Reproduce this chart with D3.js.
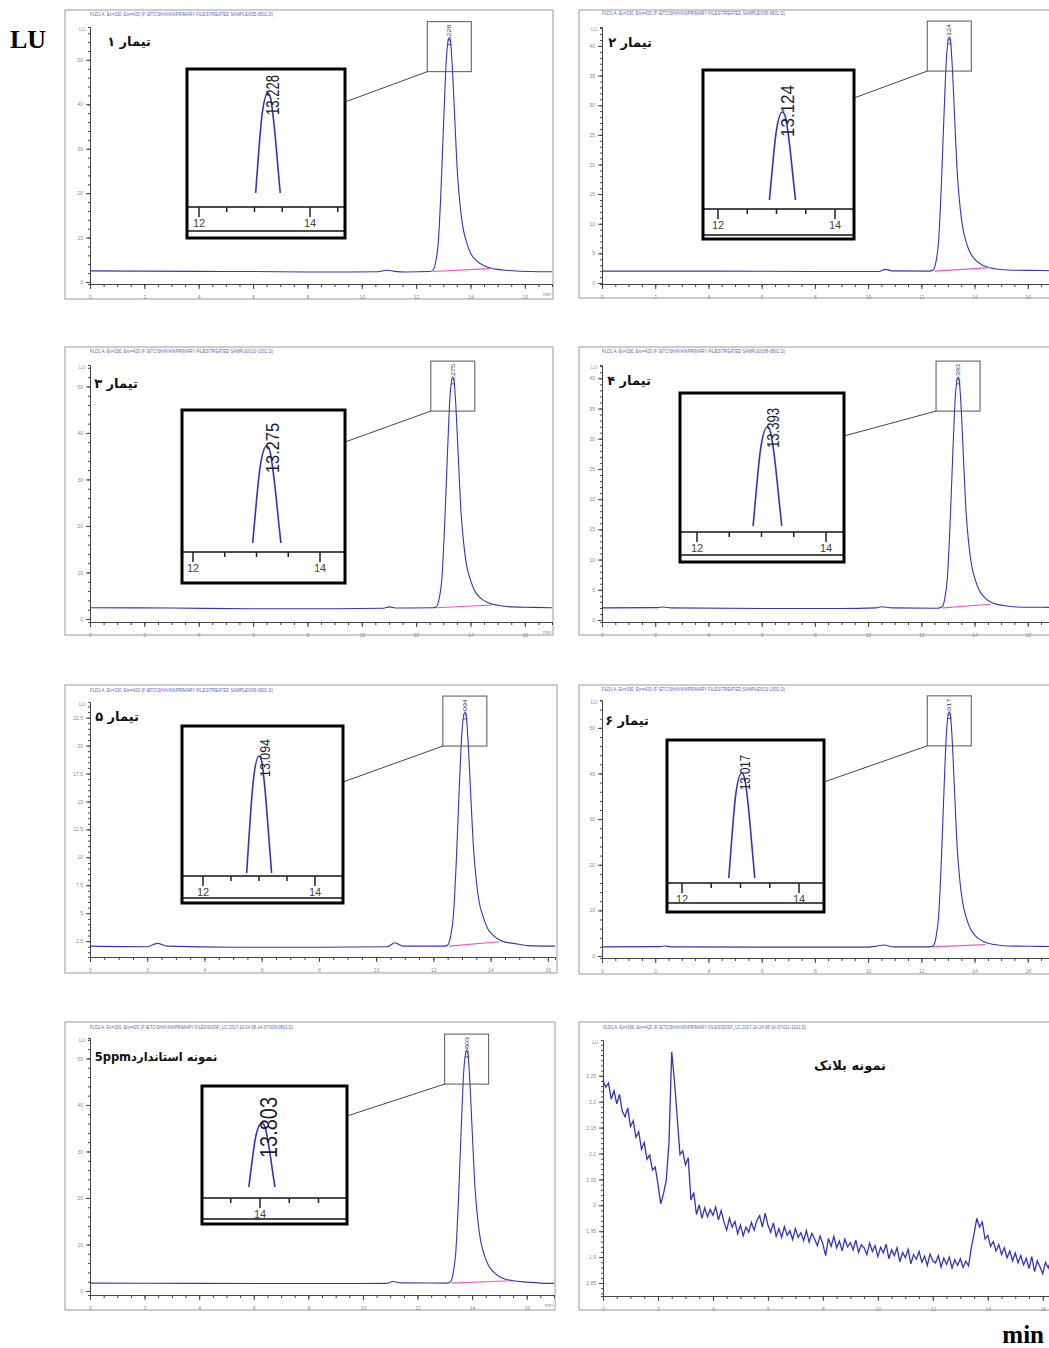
<!DOCTYPE html>
<html>
<head>
<meta charset="utf-8">
<script src="https://cdn.jsdelivr.net/npm/d3@7"></script>
<style>
  body { margin: 0; background: #fff; }
  svg { display: block; }
</style>
</head>
<body>
<svg id="chart" width="1049" height="1348"></svg>
<script>
// ---- data ----
const panelTitles = ["تیمار ۱", "تیمار ۲", "تیمار ۳", "تیمار ۴", "تیمار ۵", "تیمار ۶", "نمونه استاندارد5ppm", "نمونه بلانک"]
const retentionTimes = ["13.228", "13.124", "13.275", "13.393", "13.094", "13.017", "13.803"]
// apex position (min) of the zoomed copy
const insetApex = [13.24, 13.10, 13.16, 13.09, 13.00, 13.02, 14.03]
const headers = [
  "FLD1 A, Ex=330, Em=420 (F:\\ETC\\SHAYAN\\PRIMARY FILES\\TREATED SAMPLE\\005-0501.D)",
  "FLD1 A, Ex=330, Em=420 (F:\\ETC\\SHAYAN\\PRIMARY FILES\\TREATED SAMPLE\\006-0601.D)",
  "FLD1 A, Ex=330, Em=420 (F:\\ETC\\SHAYAN\\PRIMARY FILES\\TREATED SAMPLE\\010-1001.D)",
  "FLD1 A, Ex=330, Em=420 (F:\\ETC\\SHAYAN\\PRIMARY FILES\\TREATED SAMPLE\\008-0801.D)",
  "FLD1 A, Ex=330, Em=420 (F:\\ETC\\SHAYAN\\PRIMARY FILES\\TREATED SAMPLE\\009-0901.D)",
  "FLD1 A, Ex=330, Em=420 (F:\\ETC\\SHAYAN\\PRIMARY FILES\\TREATED SAMPLE\\013-1301.D)",
  "FLD1 A, Ex=330, Em=420 (F:\\ETC\\SHAYAN\\PRIMARY FILES\\SOSF_LC 2017-10-24 08-14-37\\008-0801.D)",
  "FLD1 A, Ex=330, Em=420 (F:\\ETC\\SHAYAN\\PRIMARY FILES\\SOSF_LC 2017-10-24 08-14-37\\011-1101.D)"
]

// [time (min), signal (LU)]
const trace1 = [[0,2.5],[1.8,2.45],[4,2.4],[6,2.35],[8,2.25],[9.5,2.25],[10.6,2.3],[10.9,2.65],[11.2,2.4],[11.6,2.25],[12.5,2.35],
  [12.62,2.66],[12.72,4.5],[12.82,9.2],[12.92,21.3],[13.02,37.1],[13.12,50.8],[13.22,55.0],[13.27,53.9],[13.32,49.7],[13.42,37.1],
  [13.52,24.5],[13.62,17.1],[13.72,12.4],[13.87,8.7],[14.02,6.3],[14.22,4.8],[14.52,3.6],[14.92,2.9],[15.42,2.6],[16.2,2.35],[17,2.3]]
const trace2 = [[0,2.0],[4,2.0],[8,1.95],[10.4,1.95],[10.65,2.3],[10.9,2.05],[12.3,2.0],
  [12.45,2.2],[12.55,3.6],[12.65,7.1],[12.75,16.2],[12.85,28.1],[12.95,38.3],[13.05,41.5],[13.1,40.7],[13.15,37.6],[13.25,28.1],
  [13.35,18.6],[13.45,13.1],[13.55,9.5],[13.7,6.7],[13.85,5.0],[14.05,3.8],[14.35,2.9],[14.75,2.4],[15.25,2.2],[16.5,2.1],[17.7,2.0]]
const trace3 = [[0,2.4],[3,2.35],[6,2.2],[9,2.2],[10.8,2.3],[11.0,2.6],[11.3,2.35],[12.6,2.4],
  [12.75,2.65],[12.85,4.4],[12.95,8.8],[13.05,20.3],[13.15,35.1],[13.25,48.0],[13.35,52.0],[13.4,51.0],[13.45,47.0],[13.55,35.1],
  [13.65,23.2],[13.75,16.3],[13.85,11.8],[14.0,8.4],[14.15,6.1],[14.35,4.6],[14.65,3.5],[15.05,2.9],[15.55,2.6],[16.3,2.5],[17,2.4]]
const trace4 = [[0,2.0],[2.1,2.05],[2.3,2.15],[2.6,2.0],[6,1.9],[9,1.9],[10.3,2.0],[10.5,2.2],[10.9,2.0],[12.6,1.95],
  [12.78,2.2],[12.88,3.5],[12.98,7.0],[13.08,15.8],[13.18,27.2],[13.28,37.1],[13.38,40.2],[13.43,39.4],[13.48,36.4],[13.58,27.2],
  [13.68,18.0],[13.78,12.7],[13.88,9.3],[14.03,6.6],[14.18,4.9],[14.38,3.7],[14.68,2.8],[15.08,2.4],[15.58,2.15],[16.5,2.1],[17.7,2.05]]
const trace5 = [[0,2.05],[2.0,2.0],[2.35,2.3],[2.7,2.05],[5,1.95],[8,1.95],[10.4,2.0],[10.65,2.35],[10.95,2.05],[12.4,2.05],
  [12.5,2.15],[12.6,2.9],[12.7,4.8],[12.8,9.6],[12.9,15.9],[13.0,21.3],[13.1,23.0],[13.15,22.6],[13.2,20.9],[13.3,15.9],
  [13.4,10.9],[13.5,7.9],[13.6,6.0],[13.75,4.6],[13.9,3.6],[14.1,3.0],[14.4,2.5],[14.8,2.3],[15.3,2.1],[16.25,2.05]]
const trace6 = [[0,2.0],[2.2,2.05],[2.35,2.2],[2.6,2.0],[6,1.95],[10,1.95],[10.35,2.2],[10.6,2.4],[10.95,2.0],[12.3,2.0],
  [12.45,2.26],[12.55,4.1],[12.65,8.7],[12.75,20.5],[12.85,36.0],[12.95,49.4],[13.05,53.5],[13.1,52.5],[13.15,48.4],[13.25,36.0],
  [13.35,23.6],[13.45,16.4],[13.55,11.8],[13.7,8.2],[13.85,5.9],[14.05,4.3],[14.35,3.1],[14.75,2.5],[15.25,2.2],[16.5,2.1],[17.7,2.0]]
const trace7 = [[0,1.7],[4,1.65],[8,1.6],[10.85,1.65],[11.1,2.05],[11.4,1.75],[13.05,1.7],
  [13.2,1.95],[13.3,3.7],[13.4,8.2],[13.5,19.7],[13.6,34.8],[13.7,47.8],[13.8,51.8],[13.85,50.8],[13.9,46.8],[14.0,34.8],
  [14.1,22.7],[14.2,15.7],[14.3,11.2],[14.45,7.7],[14.6,5.5],[14.8,4.0],[15.1,2.8],[15.5,2.2],[16.0,1.9],[16.5,1.7],[17,1.65]]

// integration baselines (pink)
const baseline1 = [[12.62,2.35],[14.7,3.0]]
const baseline2 = [[12.5,2.0],[14.6,2.6]]
const baseline3 = [[12.75,2.4],[14.8,3.0]]
const baseline4 = [[12.8,2.0],[14.6,2.6]]
const baseline5 = [[12.55,2.05],[14.3,2.45]]
const baseline6 = [[12.4,2.0],[14.4,2.5]]
const baseline7 = [[13.25,1.7],[15.4,2.2]]

// blank sample, sampled every 0.1 min from 0
const blankStep = 0.1
const blankValues = [
  2.242,2.228,2.236,2.205,2.221,2.196,2.214,2.182,2.171,2.188,
  2.152,2.163,2.131,2.142,2.108,2.121,2.089,2.097,2.068,2.074,
  2.041,2.003,2.022,2.048,2.120,2.296,2.240,2.170,2.098,2.105,
  2.078,2.092,2.010,2.025,1.982,2.001,1.975,1.995,1.978,1.992,
  1.981,1.997,1.972,1.990,1.968,1.952,1.975,1.958,1.969,1.945,
  1.962,1.941,1.958,1.948,1.967,1.952,1.971,1.980,1.958,1.985,
  1.962,1.948,1.966,1.940,1.955,1.938,1.959,1.942,1.951,1.934,
  1.955,1.938,1.947,1.932,1.951,1.929,1.946,1.935,1.922,1.941,
  1.925,1.903,1.936,1.921,1.940,1.918,1.931,1.912,1.935,1.920,
  1.928,1.914,1.933,1.909,1.924,1.918,1.905,1.927,1.911,1.922,
  1.901,1.919,1.908,1.925,1.897,1.914,1.903,1.918,1.891,1.909,
  1.899,1.915,1.887,1.905,1.896,1.911,1.890,1.902,1.884,1.906,
  1.893,1.889,1.903,1.881,1.898,1.886,1.900,1.879,1.895,1.884,
  1.897,1.880,1.892,1.883,1.918,1.945,1.975,1.958,1.968,1.935,
  1.942,1.921,1.930,1.912,1.924,1.905,1.918,1.899,1.912,1.893,
  1.908,1.889,1.903,1.885,1.898,1.878,1.901,1.872,1.893,1.881,
  1.868,1.890,1.879,1.896,1.882,1.889,1.876
]

const traces = [trace1, trace2, trace3, trace4, trace5, trace6, trace7,
  blankValues.map((v, i) => [i * blankStep, v])]
const baselines = [baseline1, baseline2, baseline3, baseline4, baseline5, baseline6, baseline7, null]

// ---- layout (pixels) ----
const layouts = [
  { frame: [65, 10, 553, 299], xd: [0, 17], xr: [90, 552], yd: [-0.45, 57.4], yr: [284, 27], yStep: 10, head: 16, title: [129, 46], tsize: 13,
    inset: { frame: [187, 69, 345, 238], axisY: 207, line2: 231, t12: 199, t14: 310, apexY: 93, cutY: 193, lx: 272, ly: 115, ls: 19, ll: 40, cy: 102 } },
  { frame: [579, 10, 1067, 298], xd: [0, 17.7], xr: [602, 1073], yd: [-0.17, 43.2], yr: [284, 27], yStep: 5, head: 15, title: [630, 47], tsize: 13,
    inset: { frame: [703, 70, 854, 239], axisY: 209, line2: 235, t12: 718, t14: 835, apexY: 112, cutY: 200, lx: 787, ly: 137, ls: 19, ll: 52, cy: 98 } },
  { frame: [65, 347, 553, 635], xd: [0, 17], xr: [90, 552], yd: [-0.65, 54.6], yr: [622, 365], yStep: 10, head: 353, title: [116, 388], tsize: 13,
    inset: { frame: [182, 410, 345, 583], axisY: 552, line2: null, t12: 193, t14: 320, apexY: 446, cutY: 543, lx: 272, ly: 473, ls: 19, ll: 50, cy: 442 } },
  { frame: [579, 347, 1067, 635], xd: [0, 17.7], xr: [602, 1073], yd: [-0.33, 42.2], yr: [622, 365], yStep: 5, head: 353, title: [629, 385], tsize: 13,
    inset: { frame: [680, 393, 844, 562], axisY: 532, line2: 555, t12: 697, t14: 826, apexY: 427, cutY: 526, lx: 773, ly: 448, ls: 17, ll: 40, cy: 436 } },
  { frame: [65, 685, 557, 973], xd: [0, 16.25], xr: [90, 555], yd: [1.08, 23.9], yr: [957, 702], yStep: 2.5, head: 692, title: [117, 721], tsize: 13,
    inset: { frame: [182, 726, 343, 903], axisY: 876, line2: 898, t12: 203, t14: 315, apexY: 756, cutY: 873, lx: 265, ly: 777, ls: 15, ll: 38, cy: 782 } },
  { frame: [579, 685, 1067, 974], xd: [0, 17.7], xr: [602, 1073], yd: [-0.44, 56.1], yr: [958, 700], yStep: 10, head: 691, title: [627, 725], tsize: 13,
    inset: { frame: [667, 740, 824, 912], axisY: 883, line2: 903, t12: 682, t14: 799, apexY: 773, cutY: 878, lx: 745, ly: 790, ls: 14, ll: 35, cy: 782 } },
  { frame: [65, 1022, 555, 1310], xd: [0, 17], xr: [90, 554], yd: [-0.86, 54.4], yr: [1295, 1038], yStep: 10, head: 1029, title: [156, 1061], tsize: 11.5,
    inset: { frame: [202, 1086, 347, 1224], axisY: 1198, line2: 1219, t12: 143, t14: 260, apexY: 1123, cutY: 1187, lx: 268, ly: 1158, ls: 24, ll: 61, cy: 1116 } },
  { frame: [579, 1022, 1067, 1310], xd: [0, 17.1], xr: [603, 1073], yd: [1.825, 2.319], yr: [1296, 1040], yStep: 0.05, head: 1029, title: [850, 1070], tsize: 13,
    inset: null }
]

const lineBlue = "#3434b8"
const svg = d3.select("#chart")
svg.append("rect").attr("width", 1049).attr("height", 1348).attr("fill", "#fff")

const line = (x, y, curve) => d3.line().x(d => x(d[0])).y(d => y(d[1])).curve(curve)

function styleAxis(g) {
  g.select(".domain").attr("stroke", "#444")
  g.selectAll(".tick line").attr("stroke", "#444")
  g.selectAll(".tick text").attr("fill", "#8a8a8a").style("font-size", "5px")
    .style("font-family", "Liberation Sans, Arial, sans-serif")
}

layouts.forEach((L, i) => {
  const g = svg.append("g")
  const [fx0, fy0, fx1, fy1] = L.frame
  g.append("rect").attr("x", fx0).attr("y", fy0).attr("width", fx1 - fx0).attr("height", fy1 - fy0)
    .attr("fill", "none").attr("stroke", "#9a9a9a").attr("stroke-width", 1)

  // file header
  g.append("text").attr("x", L.xr[0]).attr("y", L.head).text(headers[i])
    .attr("fill", "#5a66c8").style("font-size", "5.5px").style("font-family", "Liberation Sans Narrow, Liberation Sans, sans-serif")
    .attr("textLength", i >= 6 ? 203 : 183).attr("lengthAdjust", "spacingAndGlyphs")

  const x = d3.scaleLinear().domain(L.xd).range(L.xr)
  const y = d3.scaleLinear().domain(L.yd).range(L.yr)

  // axes (labels only where they stay inside the page)
  const xMajor = d3.range(0, L.xd[1] + 0.001, 2).filter(t => x(t) < 1043)
  const xMinor = d3.range(0, L.xd[1] + 0.001, 0.5)
  g.append("g").attr("transform", `translate(0,${L.yr[0]})`)
    .call(d3.axisBottom(x).tickValues(xMinor).tickSize(3).tickFormat(""))
    .call(styleAxis)
  g.append("g").attr("transform", `translate(0,${L.yr[0]})`)
    .call(d3.axisBottom(x).tickValues(xMajor).tickSize(5).tickPadding(6).tickFormat(d3.format("~g")))
    .call(styleAxis).call(a => a.select(".domain").remove())

  const y0 = Math.ceil(L.yd[0] / L.yStep - 1e-9) * L.yStep
  const yMajor = d3.range(y0, L.yd[1] - 0.4 * L.yStep, L.yStep)
  const yMinor = d3.range(Math.ceil(L.yd[0] / (L.yStep / 5) - 1e-9) * (L.yStep / 5), L.yd[1], L.yStep / 5)
  g.append("g").attr("transform", `translate(${L.xr[0]},0)`)
    .call(d3.axisLeft(y).tickValues(yMinor).tickSize(2).tickFormat(""))
    .call(styleAxis)
  g.append("g").attr("transform", `translate(${L.xr[0]},0)`)
    .call(d3.axisLeft(y).tickValues(yMajor).tickSize(4).tickPadding(3).tickFormat(d3.format("~g")))
    .call(styleAxis).call(a => a.select(".domain").remove())
  g.append("text").attr("x", L.xr[0] - 11).attr("y", L.yr[1] + 4).text("LU")
    .attr("fill", "#8a8a8a").style("font-size", "5px").style("font-family", "Liberation Sans, sans-serif")
  const lastMajor = x(d3.max(xMajor))
  if (L.xr[1] < 1045 && L.xr[1] - lastMajor > 14) {
    g.append("text").attr("x", L.xr[1] - 9).attr("y", L.yr[0] + 12).text("min")
      .attr("fill", "#8a8a8a").style("font-size", "5px").style("font-family", "Liberation Sans, sans-serif")
  }

  // signal
  const data = traces[i]
  g.append("path").datum(data).attr("d", line(x, y, i === 7 ? d3.curveLinear : d3.curveMonotoneX))
    .attr("fill", "none").attr("stroke", lineBlue).attr("stroke-width", i === 7 ? 1.3 : 1.1)
  if (baselines[i]) {
    g.append("path").datum(baselines[i]).attr("d", line(x, y, d3.curveLinear))
      .attr("fill", "none").attr("stroke", "#ee55cc").attr("stroke-width", 1.1)
  }

  // title
  g.append("text").attr("x", L.title[0]).attr("y", L.title[1]).text(panelTitles[i])
    .attr("text-anchor", "middle").attr("direction", "rtl").style("direction", "rtl")
    .style("font-family", "DejaVu Sans, sans-serif").style("font-weight", "bold").style("font-size", L.tsize + "px")
    .attr("fill", "#111")

  if (!L.inset) return

  // apex marker box and label
  const apex = d3.greatest(data, d => d[1])
  const ax = x(apex[0]), ay = y(apex[1])
  const box = [ax - 22, ay - 16, ax + 22, ay + 34]
  g.append("rect").attr("x", box[0]).attr("y", box[1]).attr("width", box[2] - box[0]).attr("height", box[3] - box[1])
    .attr("fill", "none").attr("stroke", "#555").attr("stroke-width", 1)
  g.append("text").text(retentionTimes[i])
    .attr("transform", `translate(${ax + 2},${box[1] + 3}) rotate(-90)`).attr("text-anchor", "end")
    .attr("textLength", 22).attr("lengthAdjust", "spacingAndGlyphs")
    .style("font-size", "6px").style("font-family", "Liberation Sans Narrow, Liberation Sans, sans-serif").attr("fill", "#333a66")

  // inset
  const I = L.inset
  const [ix0, iy0, ix1, iy1] = I.frame
  const shift = apex[0] - insetApex[i]
  const xi = d3.scaleLinear().domain([12, 14]).range([I.t12, I.t14])
  const xp = d3.scaleLinear().domain([12 + shift, 14 + shift]).range([I.t12, I.t14])
  const base = data[0][1]
  const cutValue = base + 0.6 * (apex[1] - base)
  const yi = d3.scaleLinear().domain([cutValue, apex[1]]).range([I.cutY, I.apexY])

  g.append("line").attr("x1", ix1).attr("y1", I.cy).attr("x2", box[0]).attr("y2", box[3])
    .attr("stroke", "#444").attr("stroke-width", 1)
  g.append("rect").attr("x", ix0).attr("y", iy0).attr("width", ix1 - ix0).attr("height", iy1 - iy0)
    .attr("fill", "#fff")

  const clipId = "clip" + i
  svg.append("clipPath").attr("id", clipId).append("rect")
    .attr("x", ix0 + 2).attr("y", iy0 + 2).attr("width", ix1 - ix0 - 4).attr("height", I.cutY - iy0 - 2)
  g.append("path").datum(data).attr("d", line(xp, yi, d3.curveMonotoneX))
    .attr("clip-path", `url(#${clipId})`)
    .attr("fill", "none").attr("stroke", lineBlue).attr("stroke-width", 1.6)

  g.append("text").text(retentionTimes[i])
    .attr("transform", `translate(${I.lx + I.ls * 0.36},${I.ly}) rotate(-90)`).attr("text-anchor", "start")
    .attr("textLength", I.ll).attr("lengthAdjust", "spacingAndGlyphs")
    .style("font-size", I.ls + "px").style("font-family", "Liberation Sans Narrow, Liberation Sans, sans-serif")
    .attr("fill", "#1d1d3a")

  // inset axis
  g.append("line").attr("x1", ix0).attr("x2", ix1).attr("y1", I.axisY).attr("y2", I.axisY)
    .attr("stroke", "#111").attr("stroke-width", 1.4)
  if (I.line2) {
    g.append("line").attr("x1", ix0).attr("x2", ix1).attr("y1", I.line2).attr("y2", I.line2)
      .attr("stroke", "#111").attr("stroke-width", 1.4)
  }
  const tickVals = d3.range(11, 16.01, 0.5).filter(t => xi(t) > ix0 + 4 && xi(t) < ix1 - 4)
  g.selectAll(null).data(tickVals).join("line")
    .attr("x1", d => xi(d)).attr("x2", d => xi(d))
    .attr("y1", I.axisY).attr("y2", d => I.axisY + (d % 2 === 0 ? 10 : 5))
    .attr("stroke", "#222").attr("stroke-width", 1.5)
  g.selectAll(null).data(tickVals.filter(t => t % 2 === 0)).join("text")
    .attr("x", d => xi(d)).attr("y", I.axisY + 20).attr("text-anchor", "middle").text(d => d)
    .style("font-size", "11px").style("font-family", "Liberation Sans Narrow, Liberation Sans, sans-serif")
    .attr("fill", "#3a4a3a")

  g.append("rect").attr("x", ix0).attr("y", iy0).attr("width", ix1 - ix0).attr("height", iy1 - iy0)
    .attr("fill", "none").attr("stroke", "#000").attr("stroke-width", 3)
})

// global axis units
svg.append("text").attr("x", 10).attr("y", 48).text("LU")
  .style("font-family", "Liberation Serif, Times New Roman, serif").style("font-weight", "bold").style("font-size", "26px")
svg.append("text").attr("x", 1044).attr("y", 1343).attr("text-anchor", "end").text("min")
  .style("font-family", "Liberation Serif, Times New Roman, serif").style("font-weight", "bold").style("font-size", "25px")
</script>
</body>
</html>
